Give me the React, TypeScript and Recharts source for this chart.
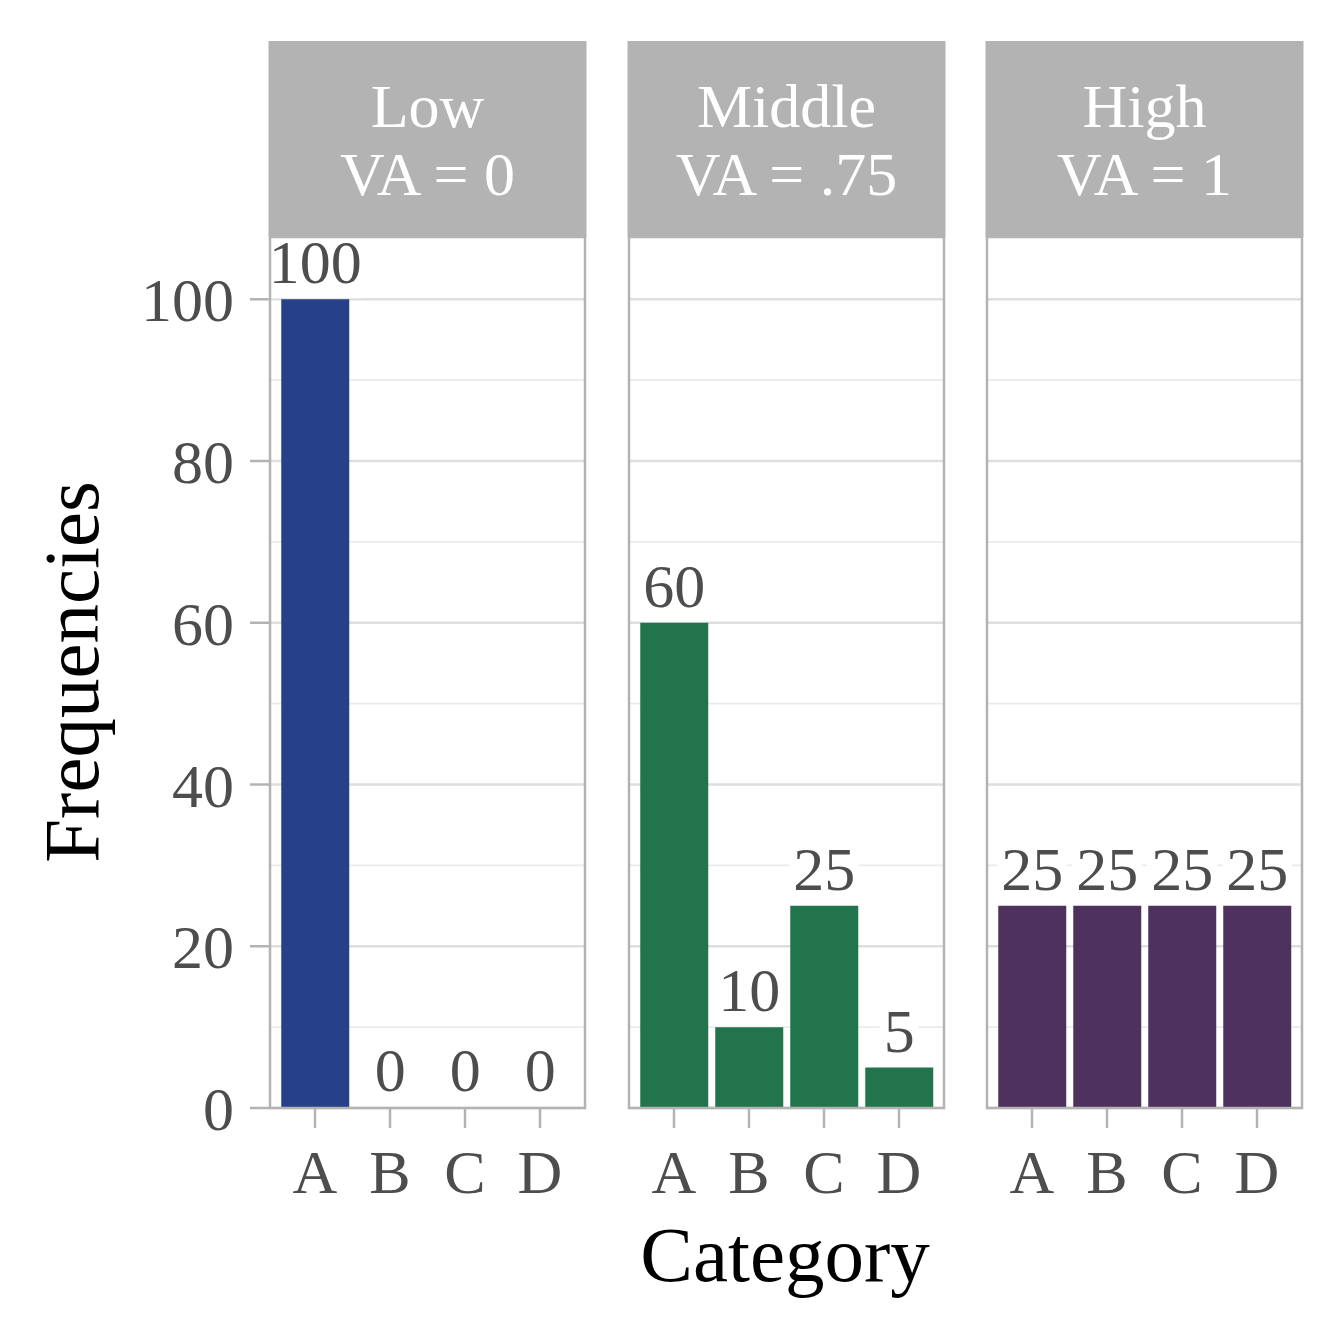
import React from 'react';
import { BarChart, Bar, XAxis, YAxis, CartesianGrid, LabelList } from 'recharts';

const categories = ['A', 'B', 'C', 'D'];
const lowValues = [100, 0, 0, 0];
const middleValues = [60, 10, 25, 5];
const highValues = [25, 25, 25, 25];
const panelNames = ['Low', 'Middle', 'High'];
const panelSubtitles = ['VA = 0', 'VA = .75', 'VA = 1'];
const panelColors = ['#26408A', '#22744D', '#4F315D'];
const majorTicks = [0, 20, 40, 60, 80, 100];
const minorTicks = [10, 30, 50, 70, 90];
const yMax = 107.7;

const FONT = "'Liberation Serif', 'DejaVu Serif', serif";
const GRAY = '#B3B3B3';
const TEXT = '#4D4D4D';
const LABEL_FS = 62;

function ValueLabel(props: any) {
  const vb = props.viewBox ?? props;
  const x = Number(vb.x);
  const y = Number(vb.y);
  const w = Number(vb.width);
  const h = Number(vb.height) || 0;
  const top = Math.min(y, y + h);
  const cx = x + w / 2;
  const text = String(props.value);
  const tw = text.length * 0.5 * LABEL_FS + 8;
  return (
    <g>
      <rect x={cx - tw / 2} y={top - 60} width={tw} height={59} rx={4} fill="#ffffff" />
      <text x={cx} y={top - 16} textAnchor="middle" fontSize={LABEL_FS} fontFamily={FONT} fill={TEXT}>
        {text}
      </text>
    </g>
  );
}

type PanelProps = {
  values: number[];
  color: string;
  showY: boolean;
  left: number;
  width: number;
  marginLeft: number;
  marginRight: number;
};

function Panel({ values, color, showY, left, width, marginLeft, marginRight }: PanelProps) {
  const data = categories.map((c, i) => ({ category: c, value: values[i] }));
  return (
    <div style={{ position: 'absolute', left, top: 200 }}>
      <BarChart
        width={width}
        height={1050}
        data={data}
        margin={{ top: 37, right: marginRight, bottom: 0, left: marginLeft }}
        barCategoryGap="5%"
      >
        <CartesianGrid
          vertical={false}
          horizontalValues={minorTicks}
          stroke="#EBEBEB"
          strokeWidth={1.8}
        />
        <CartesianGrid
          vertical={false}
          horizontalValues={majorTicks}
          stroke="#DEDEDE"
          strokeWidth={2.5}
        />
        <XAxis
          dataKey="category"
          interval={0}
          height={142}
          padding={{ left: 7.5, right: 7.5 }}
          axisLine={false}
          tickSize={20}
          tickMargin={21}
          tickLine={{ stroke: GRAY, strokeWidth: 2.5 }}
          tick={{ fill: TEXT, fontSize: 62, fontFamily: FONT }}
        />
        <YAxis
          hide={!showY}
          width={170}
          domain={[0, yMax]}
          allowDataOverflow
          ticks={majorTicks}
          axisLine={false}
          tickSize={20}
          tickMargin={16}
          tickLine={{ stroke: GRAY, strokeWidth: 2.5 }}
          tick={{ fill: TEXT, fontSize: 62, fontFamily: FONT }}
        />
        <Bar dataKey="value" fill={color} minPointSize={1} isAnimationActive={false}>
          <LabelList dataKey="value" content={ValueLabel} />
        </Bar>
      </BarChart>
    </div>
  );
}

const panelBoxes = [
  { x: 270, w: 315 },
  { x: 629, w: 315 },
  { x: 987, w: 315 },
];

export default function App() {
  const valuesList = [lowValues, middleValues, highValues];
  return (
    <div style={{ position: 'absolute', left: 0, top: 0, width: 1344, height: 1344, background: '#fff' }}>
      <Panel values={valuesList[0]} color={panelColors[0]} showY left={100} width={500} marginLeft={0} marginRight={15} />
      <Panel values={valuesList[1]} color={panelColors[1]} showY={false} left={624} width={330} marginLeft={5} marginRight={10} />
      <Panel values={valuesList[2]} color={panelColors[2]} showY={false} left={982} width={330} marginLeft={5} marginRight={10} />
      <svg
        width={1344}
        height={1344}
        style={{ position: 'absolute', left: 0, top: 0, pointerEvents: 'none' }}
      >
        {panelBoxes.map((b, i) => (
          <g key={i}>
            <rect x={b.x - 1.5} y={41} width={b.w + 3} height={196} fill={GRAY} />
            <text x={b.x + b.w / 2} y={127} textAnchor="middle" fontSize={62} fontFamily={FONT} fill="#ffffff">
              {panelNames[i]}
            </text>
            <text x={b.x + b.w / 2} y={195} textAnchor="middle" fontSize={62} fontFamily={FONT} fill="#ffffff">
              {panelSubtitles[i]}
            </text>
            <rect x={b.x} y={237} width={b.w} height={871} fill="none" stroke={GRAY} strokeWidth={2.5} />
          </g>
        ))}
        <text x={785} y={1281} textAnchor="middle" fontSize={79} fontFamily={FONT} fill="#000">
          Category
        </text>
        <text
          x={98}
          y={672}
          transform="rotate(-90 98 672)"
          textAnchor="middle"
          fontSize={79}
          fontFamily={FONT}
          fill="#000"
        >
          Frequencies
        </text>
      </svg>
    </div>
  );
}
